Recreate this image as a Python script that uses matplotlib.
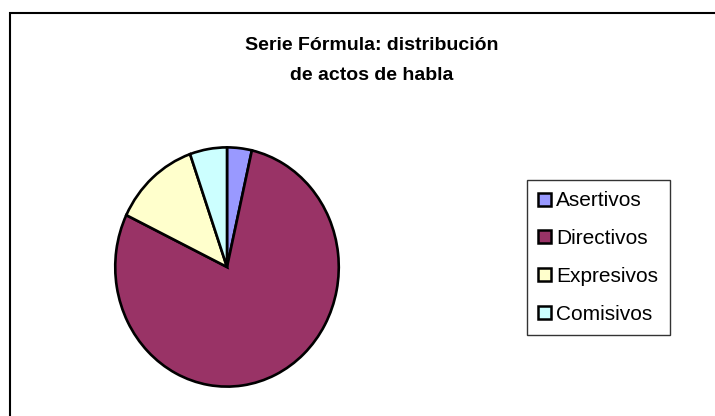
import matplotlib
matplotlib.use('Agg')
import matplotlib.pyplot as plt
from matplotlib.patches import Patch, Rectangle

# DATA
labels = ['Asertivos', 'Directivos', 'Expresivos', 'Comisivos']
counts = [2, 44, 7, 3]
colors = ['#9999FF', '#993366', '#FFFFCC', '#CCFFFF']

W, H = 715, 416
plt.rcParams['font.family'] = ['Liberation Sans', 'DejaVu Sans']

fig = plt.figure(figsize=(W / 100, H / 100), dpi=100)

# outer chart border (cropped at right and bottom)
fig.patches.append(Rectangle((10 / W, -0.2), 1.2, 1.2 - 13 / H,
                             transform=fig.transFigure, fill=False,
                             edgecolor='black', linewidth=1.5))

fig.text(372 / W, 1 - 60 / H, 'Serie Fórmula: distribución\nde actos de habla',
         ha='center', va='center', fontsize=14, fontweight='bold',
         linespacing=2.0)

# pie
cx, cy, rx, ry = 227, 267, 114, 122
ax = fig.add_axes([(cx - rx) / W, (H - cy - ry) / H, 2 * rx / W, 2 * ry / H])
ax.pie(counts, colors=colors, startangle=90, counterclock=False,
       wedgeprops={'edgecolor': 'black', 'linewidth': 1.9})
ax.set_aspect('auto')
ax.set_xlim(-1.02, 1.02)
ax.set_ylim(-1.02, 1.02)

handles = [Patch(facecolor=c, edgecolor='black', linewidth=1.8) for c in colors]
leg = fig.legend(handles, labels, loc='upper left',
                 bbox_to_anchor=(527 / W, 1 - 180 / H),
                 fontsize=15, frameon=True, fancybox=False,
                 handlelength=0.6, handleheight=0.6, handletextpad=0.25,
                 labelspacing=0.9, borderpad=0.55, borderaxespad=0)
leg.get_frame().set_edgecolor('black')
leg.get_frame().set_linewidth(1.0)

plt.savefig('out.png', dpi=100)
